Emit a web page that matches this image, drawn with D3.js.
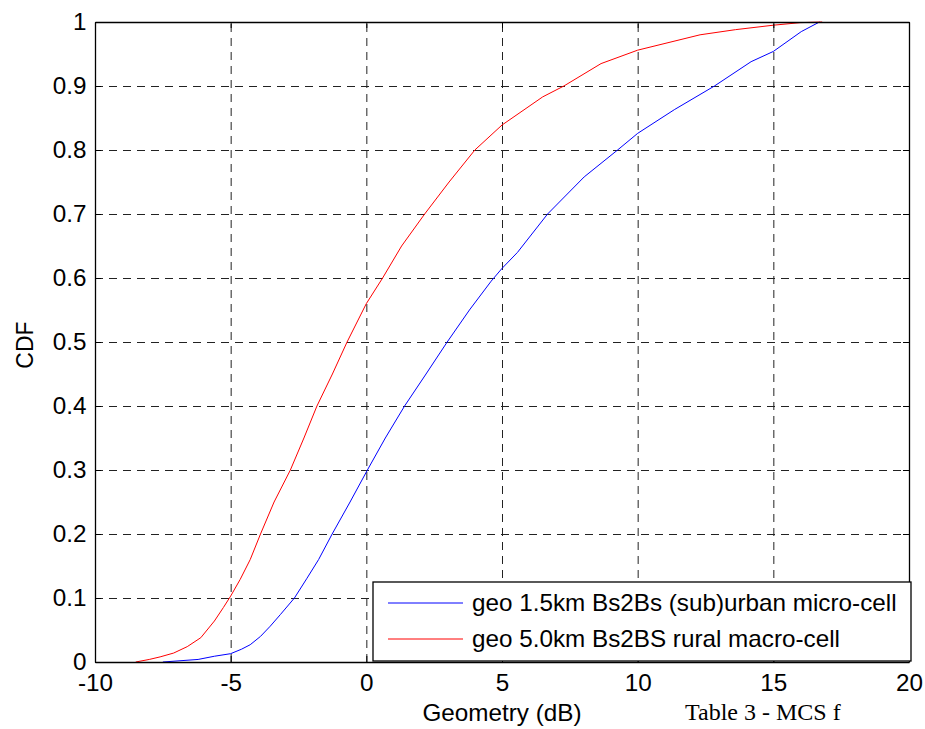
<!DOCTYPE html>
<html><head><meta charset="utf-8">
<script src="https://cdn.jsdelivr.net/npm/d3@7/dist/d3.min.js"></script>
<style>
html,body{margin:0;padding:0;background:#fff;overflow:hidden;}
svg{display:block;}
</style></head><body>
<svg id="chart" width="925" height="729"></svg>
<script>
// ---- data ----
const xTicks = [-10, -5, 0, 5, 10, 15, 20];
const yTicks = [0, 0.1, 0.2, 0.3, 0.4, 0.5, 0.6, 0.7, 0.8, 0.9, 1];
const xLabel = "Geometry (dB)";
const yLabel = "CDF";
const seriesNames = ["geo 1.5km Bs2Bs (sub)urban micro-cell", "geo 5.0km Bs2BS rural macro-cell"];
const seriesColors = ["#0000ff", "#ff0000"];
const urbanX = [-7.5, -6.2, -5.6, -5.0, -4.6, -4.28, -3.9, -3.54, -3.17, -2.65, -2.2, -1.76, -1.26, -0.6, 0.04, 0.7, 1.41, 2.2, 2.98, 3.8, 4.6, 5.0, 5.57, 6.68, 8.03, 9.26, 10.0, 11.35, 12.83, 14.18, 15.0, 16.03, 16.7];
const urbanY = [0, 0.004, 0.009, 0.013, 0.02, 0.027, 0.04, 0.056, 0.074, 0.1, 0.13, 0.16, 0.2, 0.25, 0.3, 0.35, 0.4, 0.45, 0.5, 0.55, 0.595, 0.615, 0.64, 0.7, 0.758, 0.8, 0.826, 0.863, 0.9, 0.938, 0.954, 0.985, 1];
const ruralX = [-8.5, -8.0, -7.6, -7.1, -6.6, -6.1, -5.6, -5.27, -5.0, -4.65, -4.28, -3.9, -3.4, -2.8, -2.3, -1.82, -1.25, -0.71, 0, 0.6, 1.3, 2.15, 3.05, 4.0, 5.0, 6.5, 7.28, 8.65, 10.0, 12.3, 13.6, 15.0, 16.0, 16.8];
const ruralY = [0, 0.004, 0.008, 0.014, 0.024, 0.038, 0.064, 0.085, 0.103, 0.129, 0.16, 0.2, 0.25, 0.3, 0.35, 0.4, 0.45, 0.5, 0.56, 0.6, 0.65, 0.7, 0.75, 0.8, 0.839, 0.883, 0.9, 0.935, 0.956, 0.98, 0.988, 0.995, 0.999, 1];
const caption = "Table 3 - MCS f";

// ---- layout ----
const L = 95, R = 909, T = 22, B = 662;
const FONT = '"Liberation Sans", Arial, Helvetica, sans-serif';
const FS = 23, SX = 1.055;

const svg = d3.select("#chart");
svg.append("rect").attr("width", 925).attr("height", 729).attr("fill", "#fff");

const x = d3.scaleLinear().domain([xTicks[0], xTicks[xTicks.length - 1]]).range([L, R]);
const y = d3.scaleLinear().domain([yTicks[0], yTicks[yTicks.length - 1]]).range([B, T]);

// grid
const gridX = svg.append("g").attr("transform", `translate(0,${B})`)
  .call(d3.axisBottom(x).tickValues(xTicks).tickSize(-(B - T)).tickFormat(""));
const gridY = svg.append("g").attr("transform", `translate(${L},0)`)
  .call(d3.axisLeft(y).tickValues(yTicks).tickSize(-(R - L)).tickFormat(""));
[gridX, gridY].forEach(g => {
  g.select(".domain").remove();
  g.selectAll("line").attr("stroke", "#222").attr("stroke-width", 1).attr("stroke-dasharray", "8,6");
});

// curves
const line = d3.line().x(d => x(d[0])).y(d => y(d[1]));
const series = [d3.zip(urbanX, urbanY), d3.zip(ruralX, ruralY)];
series.forEach((s, i) => {
  svg.append("path").datum(s).attr("d", line).attr("fill", "none")
    .attr("stroke", seriesColors[i]).attr("stroke-width", 1);
});

// axes (box, inward ticks)
const tk = 6;
const axB = svg.append("g").attr("transform", `translate(0,${B})`)
  .call(d3.axisBottom(x).tickValues(xTicks).tickSizeInner(-tk).tickSizeOuter(0).tickPadding(13).tickFormat(d => String(d)));
const axT = svg.append("g").attr("transform", `translate(0,${T})`)
  .call(d3.axisTop(x).tickValues(xTicks).tickSizeInner(-tk).tickSizeOuter(0).tickFormat(""));
const axL = svg.append("g").attr("transform", `translate(${L},0)`)
  .call(d3.axisLeft(y).tickValues(yTicks).tickSizeInner(-tk).tickSizeOuter(0).tickPadding(8).tickFormat(d => String(d)));
const axR = svg.append("g").attr("transform", `translate(${R},0)`)
  .call(d3.axisRight(y).tickValues(yTicks).tickSizeInner(-tk).tickSizeOuter(0).tickFormat(""));
[axB, axT, axL, axR].forEach(g => {
  g.select(".domain").attr("stroke", "#000").attr("stroke-width", 1.3);
  g.selectAll(".tick line").attr("stroke", "#000");
  g.selectAll("text").attr("fill", "#000").attr("font-family", FONT).attr("font-size", FS)
    .attr("transform", `scale(${SX},1)`);
});

// axis labels
svg.append("text").attr("x", 0).attr("y", 0).attr("text-anchor", "middle")
  .attr("font-family", FONT).attr("font-size", 23)
  .attr("transform", `translate(${(L + R) / 2},721) scale(${SX},1)`)
  .text(xLabel);
svg.append("text").attr("transform", "translate(33,345) rotate(-90)").attr("text-anchor", "middle")
  .attr("font-family", FONT).attr("font-size", 23).text(yLabel);

// legend
const lg = svg.append("g");
lg.append("rect").attr("x", 373).attr("y", 582).attr("width", 538).attr("height", 79)
  .attr("fill", "#fff").attr("stroke", "#000").attr("stroke-width", 1.3);
seriesNames.forEach((name, i) => {
  const ly = 603 + i * 36;
  lg.append("line").attr("x1", 388).attr("x2", 463).attr("y1", ly).attr("y2", ly)
    .attr("stroke", seriesColors[i]).attr("stroke-width", 1);
  lg.append("text").attr("x", 0).attr("y", 0).attr("dy", "0.35em")
    .attr("transform", `translate(472,${ly}) scale(${SX},1)`)
    .attr("font-family", FONT).attr("font-size", FS).attr("fill", "#000").text(name);
});

// caption fragment below the figure (kept fully inside the page)
svg.append("text").attr("x", 685).attr("y", 720)
  .attr("font-family", '"Liberation Serif", "Times New Roman", serif').attr("font-size", 24)
  .attr("fill", "#000").text(caption);
</script>
</body></html>
